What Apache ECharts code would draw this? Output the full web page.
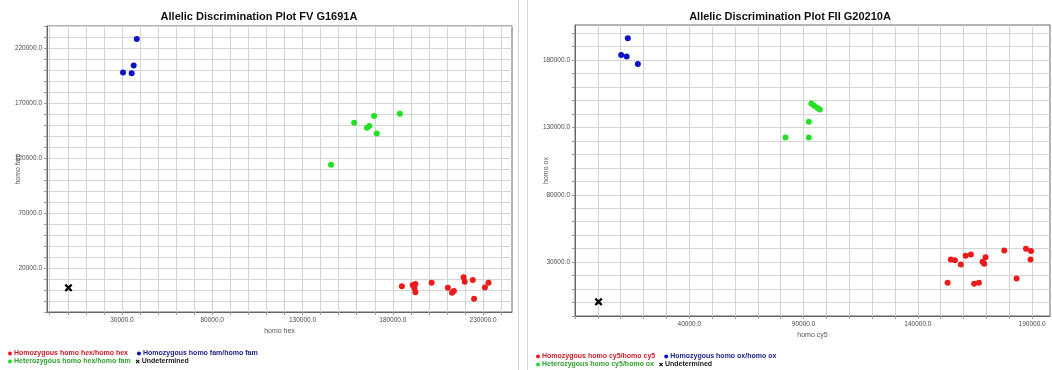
<!DOCTYPE html>
<html>
<head>
<meta charset="utf-8">
<title>Allelic Discrimination Plots</title>
<script src="https://cdn.jsdelivr.net/npm/echarts@6/dist/echarts.min.js"></script>
<style>
    body { margin: 0; background: #fff; }
    #wrap { display: flex; width: 1052px; height: 370px; }
    #fv { width: 518px; height: 370px; border-right: 1px solid #d4d4d4; }
    #fii { width: 524px; height: 370px; margin-left: 8px; border-left: 1px solid #d4d4d4; }
</style>
</head>
<body>
<div id="wrap"><div id="fv"></div><div id="fii"></div></div>
<script>
// FV G1691A  [homo hex, homo fam]
const fvHomoHex = [
    [185000, 3500], [191000, 4500], [192500, 5500], [192000, 1500], [192500, -2000],
    [201500, 6500], [210500, 2000], [212800, -2500], [213800, -800], [219200, 11500],
    [219800, 7500], [224300, 9000], [225000, -8000], [231000, 2200], [233000, 6700]
];
const fvHomoFam = [[38200, 228200], [36500, 204100], [30600, 197700], [35400, 197100]];
const fvHetero = [
    [158600, 152000], [169600, 158100], [183900, 160200], [165700, 147400],
    [167000, 149000], [171100, 142300], [145800, 113900]
];
const fvUndet = [[400, 2000]];
const fvXLabels = [30000, 80000, 130000, 180000, 230000];
const fvYLabels = [20000, 70000, 120000, 170000, 220000];

// FII G20210A  [homo cy5, homo ox]
const fiiHomoCy5 = [
    [153000, 14700], [154400, 32000], [156200, 31300], [158800, 28300], [160900, 34800],
    [163200, 35700], [164600, 13900], [166700, 14700], [168300, 30300], [169000, 28800],
    [169600, 33700], [177800, 38700], [183200, 17900], [187300, 40000], [189500, 38200],
    [189300, 32000]
];
const fiiHomoOx = [[13100, 196100], [10200, 183700], [12600, 182700], [17500, 177000]];
const fiiHetero = [
    [93400, 147800], [94600, 146000], [96100, 144300], [97100, 143300],
    [92300, 134100], [82100, 122500], [92300, 122500]
];
const fiiUndet = [[300, 550]];
const fiiXLabels = [40000, 90000, 140000, 190000];
const fiiYLabels = [30000, 80000, 130000, 180000];

const gridStep = 10000;

const RED = '#ec1a1a';
const BLUE = '#0c12c6';
const GREEN = '#24e024';
const CROSS = 'path://M2,0L5,3L8,0L10,2L7,5L10,8L8,10L5,7L2,10L0,8L3,5L0,2Z';

function gridTicks(min, max) {
    const ticks = [];
    for (let v = Math.ceil(min / gridStep) * gridStep; v <= max; v += gridStep) {
        ticks.push(v);
    }
    return ticks;
}

function valueAxis(name, nameGap, min, max, labels) {
    return {
        type: 'value',
        name: name,
        nameLocation: 'middle',
        nameGap: nameGap,
        nameMoveOverlap: false,
        nameTextStyle: { fontSize: 7, color: '#555', fontFamily: 'Liberation Sans' },
        min: min,
        max: max,
        axisLine: { show: true, onZero: false, lineStyle: { color: '#666' } },
        axisTick: {
            show: true,
            length: 3,
            customValues: gridTicks(min, max),
            lineStyle: { color: '#999' }
        },
        splitLine: { show: true, lineStyle: { color: '#d4d4d4' } },
        axisLabel: {
            customValues: labels,
            margin: 5,
            fontSize: 6.5,
            color: '#4a4a4a',
            fontFamily: 'Liberation Sans',
            formatter: function (v) {
                return v.toFixed(1);
            }
        }
    };
}

function legendRow(items, left, top, gap) {
    return {
        left: left,
        top: top,
        padding: 0,
        itemWidth: 4,
        itemHeight: 4,
        itemGap: gap,
        selectedMode: false,
        textStyle: { fontSize: 7, fontWeight: 'bold', fontFamily: 'Liberation Sans', padding: [0, 0, 0, -3] },
        data: items
    };
}

function drawPlot(domId, p) {
    const chart = echarts.init(document.getElementById(domId));
    const option = {
        animation: false,
        title: {
            text: p.title,
            left: 'center',
            top: 6,
            textStyle: { fontSize: 11, fontWeight: 'bold', color: '#111', fontFamily: 'Liberation Sans' }
        },
        grid: {
            left: 47,
            top: p.top,
            width: p.width,
            height: p.height,
            show: true,
            borderColor: '#666',
            borderWidth: 1
        },
        xAxis: valueAxis(p.xName, 16, p.xMin, p.xMax, p.xLabels),
        yAxis: valueAxis(p.yName, 25, p.yMin, p.yMax, p.yLabels),
        legend: [
            legendRow([
                { name: p.names[0], icon: 'circle', textStyle: { color: '#c8202a' } },
                { name: p.names[1], icon: 'circle', textStyle: { color: '#20208a' } }
            ], p.legendLeft, p.legendTop, 9),
            legendRow([
                { name: p.names[2], icon: 'circle', textStyle: { color: '#32a032' } },
                { name: 'Undetermined', icon: CROSS, textStyle: { color: '#222' } }
            ], p.legendLeft, p.legendTop + 8, 5)
        ],
        series: [
            { name: p.names[0], type: 'scatter', symbolSize: 6, itemStyle: { color: RED, opacity: 1 }, data: p.data[0] },
            { name: p.names[1], type: 'scatter', symbolSize: 6, itemStyle: { color: BLUE, opacity: 1 }, data: p.data[1] },
            { name: p.names[2], type: 'scatter', symbolSize: 6, itemStyle: { color: GREEN, opacity: 1 }, data: p.data[2] },
            { name: 'Undetermined', type: 'scatter', symbol: CROSS, symbolSize: 8, itemStyle: { color: '#000', opacity: 1 }, data: p.data[3] }
        ]
    };
    chart.setOption(option);
}

drawPlot('fv', {
    title: 'Allelic Discrimination Plot FV G1691A',
    xName: 'homo hex',
    yName: 'homo fam',
    names: ['Homozygous homo hex/homo hex', 'Homozygous homo fam/homo fam', 'Heterozygous homo hex/homo fam'],
    data: [fvHomoHex, fvHomoFam, fvHetero, fvUndet],
    xMin: -11500, xMax: 246000, xLabels: fvXLabels,
    yMin: -20000, yMax: 240000, yLabels: fvYLabels,
    top: 26, width: 465, height: 286,
    legendLeft: 8, legendTop: 350
});

drawPlot('fii', {
    title: 'Allelic Discrimination Plot FII G20210A',
    xName: 'homo cy5',
    yName: 'homo ox',
    names: ['Homozygous homo cy5/homo cy5', 'Homozygous homo ox/homo ox', 'Heterozygous homo cy5/homo ox'],
    data: [fiiHomoCy5, fiiHomoOx, fiiHetero, fiiUndet],
    xMin: -10000, xMax: 197800, xLabels: fiiXLabels,
    yMin: -10000, yMax: 206000, yLabels: fiiYLabels,
    top: 25, width: 475, height: 291,
    legendLeft: 8, legendTop: 353
});
</script>
</body>
</html>
